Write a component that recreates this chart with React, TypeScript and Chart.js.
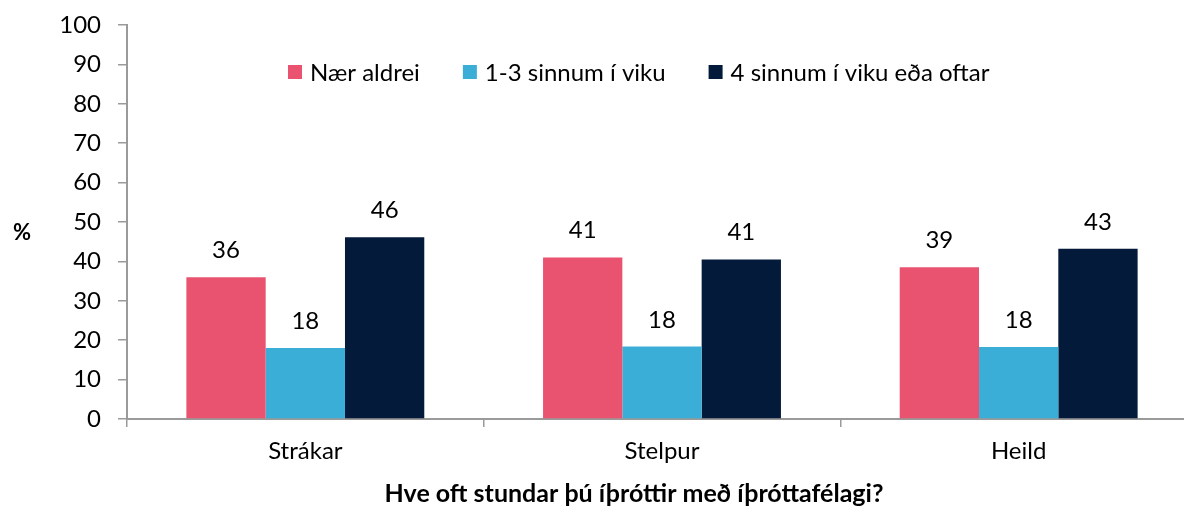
import React, { useEffect, useRef } from "react";
import { Chart, registerables } from "chart.js";

Chart.register(...registerables);

const categories = ["Strákar", "Stelpur", "Heild"];
const seriesLabels = ["Nær aldrei", "1-3 sinnum í viku", "4 sinnum í viku eða oftar"];
const naerAldrei = [36.0, 41.0, 38.5];
const einnTilThrju = [18.0, 18.4, 18.3];
const fjorumOftar = [46.1, 40.5, 43.2];
const seriesColors = ["#E9536F", "#3BAED8", "#041A3A"];
const yTicks = [0, 10, 20, 30, 40, 50, 60, 70, 80, 90, 100];
const xTitle = "Hve oft stundar þú íþróttir með íþróttafélagi?";
const yTitle = "%";

const FONT = "Lato, 'Open Sans', sans-serif";
const AXIS_COLOR = "#9a9a9a";

const extrasPlugin = {
  id: "extras",
  afterDatasetsDraw(chart: any) {
    const ctx = chart.ctx;
    ctx.save();
    // data labels
    ctx.font = `24px ${FONT}`;
    ctx.fillStyle = "#000";
    ctx.textAlign = "center";
    ctx.textBaseline = "alphabetic";
    chart.data.datasets.forEach((ds: any, di: number) => {
      const meta = chart.getDatasetMeta(di);
      meta.data.forEach((bar: any, i: number) => {
        ctx.fillText(String(Math.round(ds.data[i])), bar.x, bar.y - 19);
      });
    });
    // legend
    let x = 288;
    const cy = 72;
    chart.data.datasets.forEach((ds: any) => {
      ctx.fillStyle = ds.backgroundColor;
      ctx.fillRect(x, cy - 7, 14, 14);
      ctx.fillStyle = "#000";
      ctx.textAlign = "left";
      ctx.textBaseline = "middle";
      ctx.fillText(ds.label, x + 22, cy + 1);
      x += 22 + ctx.measureText(ds.label).width + 43;
    });
    // y title
    ctx.font = `bold 22px ${FONT}`;
    ctx.textAlign = "center";
    ctx.textBaseline = "middle";
    ctx.fillText(yTitle, 22, 233);
    // x title
    ctx.font = `bold 25px ${FONT}`;
    ctx.fillText(xTitle, 634, 494);
    ctx.restore();
  },
};

export default function App() {
  const ref = useRef<HTMLCanvasElement | null>(null);
  useEffect(() => {
    if (!ref.current) return;
    const chart = new Chart(ref.current, {
      type: "bar",
      data: {
        labels: categories,
        datasets: [naerAldrei, einnTilThrju, fjorumOftar].map((d, i) => ({
          label: seriesLabels[i],
          data: d,
          backgroundColor: seriesColors[i],
          borderWidth: 0,
          barPercentage: 1,
          categoryPercentage: 0.667,
        })),
      },
      options: {
        animation: false,
        responsive: false,
        layout: { padding: { top: 25, right: 3, left: 0, bottom: 0 } },
        plugins: { legend: { display: false }, tooltip: { enabled: false } },
        scales: {
          x: {
            grid: {
              display: true,
              drawOnChartArea: false,
              drawTicks: true,
              tickLength: 8,
              color: AXIS_COLOR,
              lineWidth: 1.5,
              offset: true,
            },
            border: { display: true, color: AXIS_COLOR, width: 2 },
            ticks: { color: "#000", font: { family: FONT, size: 24 }, padding: 10 },
            afterFit: (s: any) => {
              s.height = 88;
              s.paddingLeft = 0;
              s.paddingRight = 0;
            },
          },
          y: {
            min: 0,
            max: 100,
            afterBuildTicks: (s: any) => {
              s.ticks = yTicks.map((v) => ({ value: v }));
            },
            grid: {
              display: true,
              drawOnChartArea: false,
              drawTicks: true,
              tickLength: 9,
              color: AXIS_COLOR,
              lineWidth: 1.5,
            },
            border: { display: true, color: AXIS_COLOR, width: 2 },
            ticks: { color: "#000", font: { family: FONT, size: 24 }, padding: 17 },
            afterFit: (s: any) => {
              s.width = 127;
              s.paddingTop = 0;
              s.paddingBottom = 0;
            },
          },
        },
      },
      plugins: [extrasPlugin],
    });
    return () => chart.destroy();
  }, []);
  return (
    <div
      style={{
        position: "fixed",
        left: 0,
        top: 0,
        width: 1184,
        height: 507,
        overflow: "hidden",
        background: "#fff",
      }}
    >
      <canvas ref={ref} width={1200} height={507} style={{ display: "block" }} />
    </div>
  );
}
